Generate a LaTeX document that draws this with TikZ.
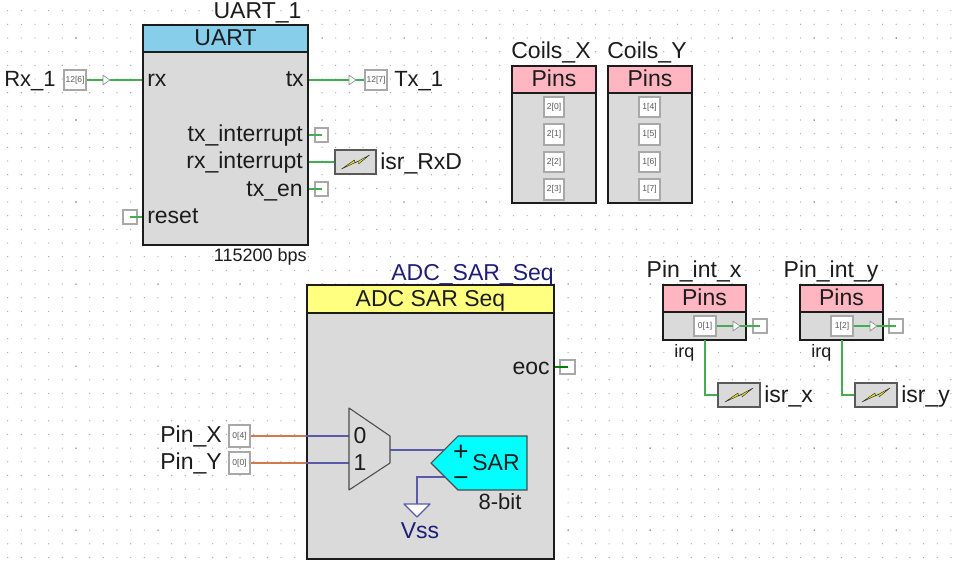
\documentclass[tikz,border=0pt]{standalone}
\usepackage{fontspec}
\setmainfont{Liberation Sans}
\usetikzlibrary{shapes.geometric}
\definecolor{ink}{HTML}{1C1C1C}
\definecolor{bodygray}{HTML}{DADADA}
\definecolor{pinedge}{HTML}{A8A8A8}
\definecolor{wiregreen}{HTML}{43AD52}
\definecolor{wirered}{HTML}{D27A4E}
\definecolor{wireblue}{HTML}{5A5AAA}
\definecolor{navytext}{HTML}{1E1E78}
\definecolor{uartblue}{HTML}{87CEEB}
\definecolor{pinpink}{HTML}{FFB6C1}
\definecolor{adcyellow}{HTML}{FFFF80}
\definecolor{sarcyan}{HTML}{00FFFF}
\newcommand\bx[7]{\node[#1,minimum width={(#5-#3)*0.75pt},minimum height={(#6-#4)*0.75pt}] (#2) at ({(#3+#5)/2},{(#4+#6)/2}) {#7};}
\newcommand\lbl[5]{\node[#1,anchor=#2] (#3) at (#4) {#5};}
\tikzset{
 big/.style={font=\fontsize{17.25}{20}\selectfont,text=ink,inner sep=0pt},
 mid/.style={font=\fontsize{13.5}{16}\selectfont,text=ink,inner sep=0pt},
 block/.style={draw=ink,fill=bodygray,line width=1.5pt,inner sep=0pt,rectangle},
 head/.style={block,font=\fontsize{17.25}{20}\selectfont,text=ink,text height=12.4pt,text depth=1.2pt},
 uarthead/.style={head,fill=uartblue},
 pinhead/.style={head,fill=pinpink},
 adchead/.style={head,fill=adcyellow},
 pinbox/.style={draw=pinedge,fill=white,line width=0.9pt,inner sep=0pt,rectangle,font=\fontsize{6.4}{7}\selectfont,text=black!65},
 stub/.style={draw=pinedge,fill=white,line width=0.9pt,inner sep=0pt,rectangle},
 wire/.style={draw=wiregreen,line width=1.2pt},
 redwire/.style={draw=wirered,line width=1.4pt},
 bluewire/.style={draw=wireblue,line width=1.4pt},
 arrowmark/.style={isosceles triangle,isosceles triangle apex angle=70,draw=black!45,fill=white,line width=0.5pt,inner sep=0pt,minimum width=4.2pt,minimum height=5.2pt},
 isr/.style={draw=black!65,fill=bodygray,line width=1.2pt,inner sep=0pt,rectangle,
  path picture={\draw[shift={(path picture bounding box.center)},draw=black!80,fill=yellow!90!black,line width=0.35pt,line join=round]
   (-14,7) -- (-1,-2) -- (-0.5,1) -- (14,-7) -- (3,2) -- (3,-1) -- cycle;}},
}
\begin{document}
\begin{tikzpicture}[x=0.75pt,y=-0.75pt]
\useasboundingbox (0,0) rectangle (953,568);
\fill[white] (0,0) rectangle (953,568);
% grid of dots
\foreach \i in {0,...,69}{\foreach \j in {0,...,40}{
  \pgfmathtruncatemacro\ma{(mod(\i,6)==5)&&(mod(\j,6)==2)}
  \ifnum\ma=1 \fill[black!55] ({7.65+\i*13.67},{10.66+\j*13.67}) circle (0.8);
  \else \fill[black!35] ({7.65+\i*13.67},{10.66+\j*13.67}) circle (0.65); \fi}}

% UART
\bx{block}{uart}{143}{25}{308}{245}{}
\bx{uarthead}{uarthdr}{143}{25}{308}{52}{UART}
\lbl{big}{base}{uarttitle}{257.5,18}{UART\_1}
\lbl{big}{base west}{rxl}{147,86}{rx}
\lbl{big}{base east}{txl}{304,86}{tx}
\lbl{big}{base east}{txil}{303,141}{tx\_interrupt}
\lbl{big}{base east}{rxil}{303,168}{rx\_interrupt}
\lbl{big}{base east}{txenl}{303,196}{tx\_en}
\lbl{big}{base west}{resetl}{147,223}{reset}
\lbl{mid}{base east}{baud}{307,261}{115200 bps}
\lbl{big,font=\fontsize{16.5}{20}\selectfont}{base west}{rxname}{4,86}{Rx\_1}
\lbl{big,font=\fontsize{16.5}{20}\selectfont}{base west}{txname}{394,86}{Tx\_1}
\bx{pinbox}{rxpin}{64}{70}{86}{90}{12[6]}
\bx{pinbox}{txpin}{365}{70}{387}{90}{12[7]}
\node[arrowmark] (rxtri) at (105.5,80) {};
\node[arrowmark] (txtri) at (351.5,80) {};
\draw[wire] (rxpin.east) -- (rxtri.west);
\draw[wire] (rxtri.east) -- (uart.west |- rxtri);
\draw[wire] (uart.east |- txtri) -- (txtri.west);
\draw[wire] (txtri.east) -- (txpin.west);
\bx{stub}{txistub}{315}{128}{328}{142}{}
\bx{stub}{txenstub}{315}{182}{328}{196}{}
\bx{stub}{resetstub}{123}{210}{137}{224}{}
\bx{isr}{isrrxd}{335}{150}{376}{174}{}
\lbl{big}{base west}{isrrxdl}{380,169}{isr\_RxD}
\draw[wire] (uart.east |- txistub) -- (txistub.center);
\draw[wire] (uart.east |- txenstub) -- (txenstub.center);
\draw[wire] (resetstub.center) -- (uart.west |- resetstub);
\draw[wire] (uart.east |- isrrxd) -- (isrrxd.west);

% Coils
\bx{block}{coilx}{512}{66}{596}{203}{}
\bx{pinhead}{coilxh}{512}{66}{596}{93}{Pins}
\lbl{big}{base}{coilxt}{551,58}{Coils\_X}
\bx{block}{coily}{608}{66}{692}{203}{}
\bx{pinhead}{coilyh}{608}{66}{692}{93}{Pins}
\lbl{big}{base}{coilyt}{647,58}{Coils\_Y}
\bx{pinbox}{xa}{544}{97}{564}{117}{2[0]}
\bx{pinbox}{xb}{544}{124}{564}{145}{2[1]}
\bx{pinbox}{xc}{544}{152}{564}{172}{2[2]}
\bx{pinbox}{xd}{544}{179}{564}{200}{2[3]}
\bx{pinbox}{ya}{639}{97}{660}{117}{1[4]}
\bx{pinbox}{yb}{639}{124}{660}{145}{1[5]}
\bx{pinbox}{yc}{639}{152}{660}{172}{1[6]}
\bx{pinbox}{yd}{639}{179}{660}{200}{1[7]}

% Pin_int_x
\bx{block}{pix}{663}{285}{746}{340}{}
\bx{pinhead}{pixh}{663}{285}{746}{312}{Pins}
\lbl{big}{base}{pixt}{694,277}{Pin\_int\_x}
\bx{pinbox}{pixpin}{694}{316}{716}{336}{0[1]}
\node[arrowmark] (pixtri) at (735.5,326) {};
\bx{stub}{pixstub}{753}{319}{767}{333}{}
\draw[wire] (pixpin.east) -- (pixtri.west);
\draw[wire] (pixtri.east) -- (pixstub.center);
\lbl{mid}{base west}{pixirq}{674,357}{irq}
\bx{isr}{isrx}{718}{383}{760}{407}{}
\lbl{big}{base west}{isrxl}{764,402}{isr\_x}
\coordinate (pixout) at (705,340);
\draw[wire] (pixout) |- (isrx.west);

% Pin_int_y
\bx{block}{piy}{800}{285}{883}{340}{}
\bx{pinhead}{piyh}{800}{285}{883}{312}{Pins}
\lbl{big}{base}{piyt}{831,277}{Pin\_int\_y}
\bx{pinbox}{piypin}{831}{316}{853}{336}{1[2]}
\node[arrowmark] (piytri) at (872.5,326) {};
\bx{stub}{piystub}{889}{319}{903}{333}{}
\draw[wire] (piypin.east) -- (piytri.west);
\draw[wire] (piytri.east) -- (piystub.center);
\lbl{mid}{base west}{piyirq}{811,357}{irq}
\bx{isr}{isry}{855}{383}{897}{407}{}
\lbl{big}{base west}{isryl}{901,402}{isr\_y}
\coordinate (piyout) at (842,340);
\draw[wire] (piyout) |- (isry.west);

% ADC
\bx{block}{adc}{307}{285}{554}{559}{}
\bx{adchead}{adch}{307}{285}{554}{313}{ADC SAR Seq}
\lbl{big,text=navytext}{base east}{adct}{554,280}{ADC\_SAR\_Seq}
\lbl{big}{base east}{eocl}{550,374}{eoc}
\bx{stub}{eocstub}{560}{360}{575}{374}{}
\draw[wire,draw=green!50!black] (adc.east |- eocstub) -- (eocstub.center);
\lbl{big}{base east}{pinxl}{222,442}{Pin\_X}
\lbl{big}{base east}{pinyl}{222,469}{Pin\_Y}
\bx{pinbox}{pinx}{229}{425}{250}{447}{0[4]}
\bx{pinbox}{piny}{229}{452}{250}{474}{0[0]}
\coordinate (mux0) at (349,436);
\coordinate (mux1) at (349,463);
\coordinate (muxo) at (390,450);
\coordinate (sarp) at (445,450);
\coordinate (sarm) at (445,477);
\coordinate (gnd) at (417,504);
\draw[redwire] (pinx.east) -- (adc.west |- pinx);
\draw[redwire] (piny.east) -- (adc.west |- piny);
\draw[bluewire] (adc.west |- mux0) -- (mux0);
\draw[bluewire] (adc.west |- mux1) -- (mux1);
\draw[bluewire] (muxo) -- (sarp);
\draw[bluewire] (sarm) -| (gnd);
\draw[draw=black!70,fill=bodygray,line width=0.8pt,line join=round] (349,408) -- (390,436) -- (390,463) -- (349,490) -- cycle;
\lbl{big}{base}{zero}{360,443}{0}
\lbl{big}{base}{one}{360,470}{1}
\draw[draw=black!70,fill=sarcyan,line width=0.8pt] (458,436) -- (527,436) -- (527,490) -- (458,490) -- (431,463) -- cycle;
\lbl{big}{base}{sarl}{496,470}{SAR}
\node[font=\fontsize{20}{22}\selectfont,text=ink,inner sep=0pt,anchor=base] (plus) at (461,460) {+};
\node[font=\fontsize{20}{22}\selectfont,text=ink,inner sep=0pt,anchor=base] (minus) at (461,486) {−};
\lbl{mid,font=\fontsize{16.5}{18}\selectfont}{base}{bits}{500,509}{8-bit}
\draw[draw=wireblue,fill=white,line width=0.9pt,line join=round] (404,504) -- (430,504) -- (417,517) -- cycle;
\lbl{big,text=navytext}{base}{vss}{420,538}{Vss}
\end{tikzpicture}
\end{document}
